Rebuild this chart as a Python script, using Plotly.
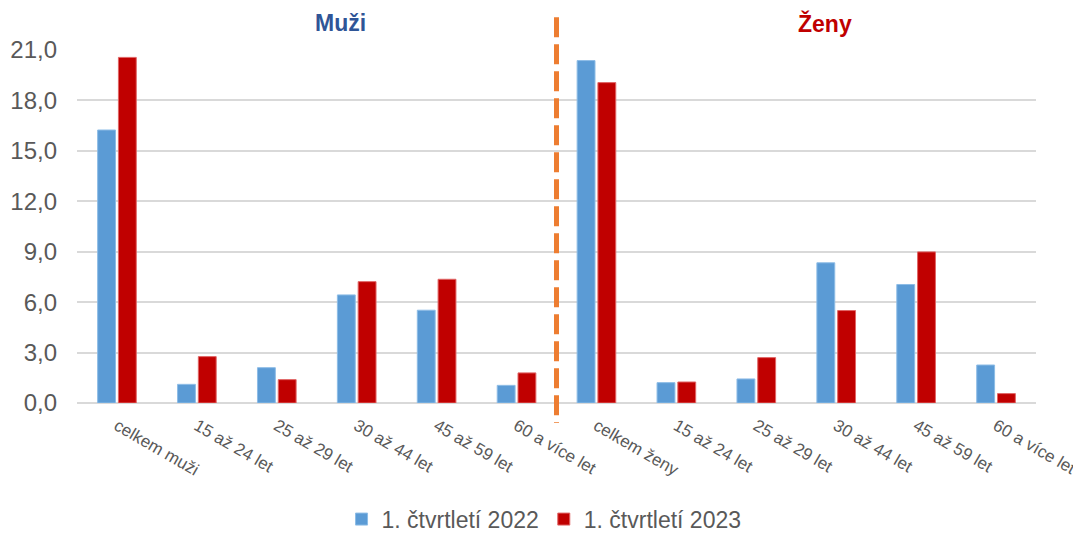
import plotly.graph_objects as go

# data
categories = ["celkem muži", "15 až 24 let", "25 až 29 let", "30 až 44 let", "45 až 59 let", "60 a více let",
              "celkem ženy", "15 až 24 let", "25 až 29 let", "30 až 44 let", "45 až 59 let", "60 a více let"]
q1_2022 = [16.24, 1.11, 2.10, 6.43, 5.52, 1.05, 20.37, 1.21, 1.43, 8.34, 7.05, 2.26]
q1_2023 = [20.56, 2.76, 1.39, 7.22, 7.36, 1.79, 19.06, 1.25, 2.70, 5.50, 8.99, 0.56]
series_names = ["1. čtvrtletí 2022", "1. čtvrtletí 2023"]
y_ticks = [0, 3, 6, 9, 12, 15, 18, 21]

positions = list(range(len(categories)))

fig = go.Figure()
fig.add_trace(go.Bar(x=positions, y=q1_2022, name=series_names[0],
                     marker=dict(color="#5B9BD5", line=dict(color="#8DBCE6", width=1))))
fig.add_trace(go.Bar(x=positions, y=q1_2023, name=series_names[1],
                     marker=dict(color="#C00000", line=dict(color="#E06666", width=1))))

# dashed divider between the men and women groups (drawn top-down so the dashes start at the top)
fig.add_shape(type="line", xref="x", yref="paper", x0=5.5, x1=5.5, y0=1.093, y1=-0.057,
              line=dict(color="#ED7D31", width=5, dash="20px,7px"))

fig.add_annotation(text="<b>Muži</b>", xref="paper", yref="paper", x=0.275, y=1.076,
                   xanchor="center", yanchor="middle",
                   showarrow=False, font=dict(size=23, color="#2F5597"))
fig.add_annotation(text="<b>Ženy</b>", xref="paper", yref="paper", x=0.780, y=1.076,
                   xanchor="center", yanchor="middle",
                   showarrow=False, font=dict(size=23, color="#C00000"))

# page body has an 8px margin, so margins are shifted; extra space right/below is off-screen
fig.update_layout(
    width=1095, height=560,
    margin=dict(l=69, r=67, t=42, b=165),
    plot_bgcolor="white", paper_bgcolor="white",
    font=dict(family="Liberation Sans, Arial, sans-serif", color="#595959"),
    separators=", ",
    barmode="group", bargap=0.48, bargroupgap=0.14,
    showlegend=True,
    legend=dict(orientation="h", x=0.487, xanchor="center", y=-0.329, yanchor="middle",
                font=dict(size=23, color="#595959"), itemwidth=30),
)
fig.update_xaxes(tickmode="array", tickvals=positions, ticktext=categories, tickangle=30,
                 range=[-0.5, len(categories) - 0.5], showgrid=False, zeroline=False,
                 showline=False, ticks="", tickfont=dict(size=17, color="#595959"),
                 ticklabelstandoff=9, automargin=False)
fig.update_yaxes(range=[0, 21], tickvals=y_ticks, tickformat=".1f", showgrid=True,
                 gridcolor="#D9D9D9", gridwidth=1.5, zeroline=True, zerolinecolor="#D9D9D9",
                 zerolinewidth=1.5, tickfont=dict(size=24, color="#595959"), ticks="",
                 ticklabelstandoff=19, automargin=False)

# hide scrollbars so the off-screen part of the figure does not eat into the view
fig.write_html("out.html", post_script="document.body.style.overflow = 'hidden';")
